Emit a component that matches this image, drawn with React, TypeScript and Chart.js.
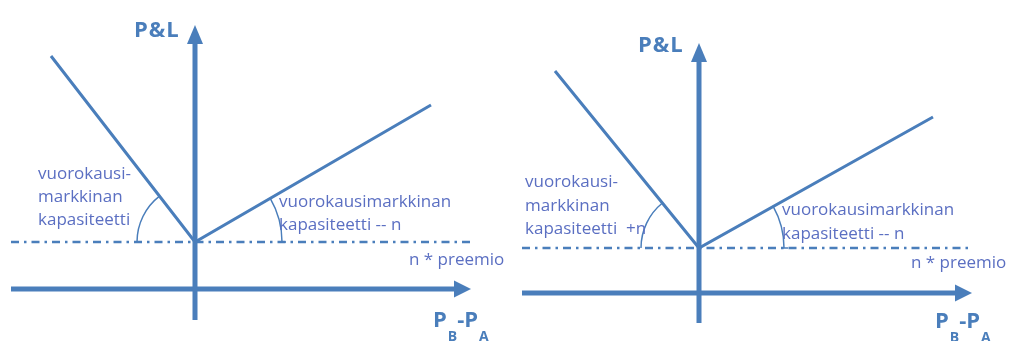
import React, { useEffect, useRef } from "react";
import { Chart, registerables } from "chart.js";

Chart.register(...registerables);

// ---------- Data (schematic P&L units; axes cross at 0,0) ----------
// Left panel
const leftPayoffX = [-14.4, 0, 23.6];
const leftPayoffY = [23.3, 4.7, 18.4];
const leftPremium = 4.7;
const leftPremiumSpan = [-18.4, 27.5];
const leftXAxisSpan = [-18.4, 26.0];
const leftYAxisSpan = [-3.1, 24.6];

// Right panel
const rightPayoffX = [-14.4, 0, 23.4];
const rightPayoffY = [22.2, 4.5, 17.6];
const rightPremium = 4.5;
const rightPremiumSpan = [-17.7, 27.2];
const rightXAxisSpan = [-17.7, 25.7];
const rightYAxisSpan = [-3.0, 23.2];

// Texts
const yAxisTitle = "P&L";
const leftBuyLines = ["vuorokausi-", "markkinan", "kapasiteetti"];
const rightBuyLines = ["vuorokausi-", "markkinan", "kapasiteetti  +n"];
const sellLines = ["vuorokausimarkkinan", "kapasiteetti -- n"];
const premiumLabel = "n * preemio";
const xAxisTitleParts = ["P", "B", "-P", "A"];

// ---------- Styles / layout ----------
const LINE_BLUE = "#4a7ebb";
const TEXT_BLUE = "#5b6fc2";
const SMALL_FONT = '17px "Open Sans", "Noto Sans", sans-serif';
const BIG_FONT = 'bold 22px "Open Sans", "Noto Sans", sans-serif';
const SUB_FONT = 'bold 14px "Open Sans", "Noto Sans", sans-serif';

type Layout = {
  view: { xMin: number; xMax: number; yMin: number; yMax: number };
  title: { x: number; y: number };
  buy: { x: number; y: number; lines: string[] };
  sell: { x: number; y: number };
  prem: { x: number; y: number };
  xTitle: { x: number; y: number };
  arcR: [number, number];
  lineGap: number;
};

const leftLayout: Layout = {
  view: { xMin: -19.5, xMax: 82.4, yMin: -5.2, yMax: 28.9 },
  title: { x: -6.1, y: 25.2 },
  buy: { x: -15.7, y: 11.0, lines: leftBuyLines },
  sell: { x: 8.4, y: 8.2 },
  prem: { x: 21.4, y: 2.4 },
  xTitle: { x: 23.8, y: -3.8 },
  arcR: [58, 87],
  lineGap: 23,
};

const rightLayout: Layout = {
  view: { xMin: -69.9, xMax: 32.0, yMin: -4.8, yMax: 29.3 },
  title: { x: -6.1, y: 24.1 },
  buy: { x: -17.4, y: 10.6, lines: rightBuyLines },
  sell: { x: 8.3, y: 7.8 },
  prem: { x: 21.2, y: 2.5 },
  xTitle: { x: 23.6, y: -3.5 },
  arcR: [58, 85],
  lineGap: 23.5,
};

type PanelData = {
  payoffX: number[];
  payoffY: number[];
  premium: number;
  premiumSpan: number[];
  xAxisSpan: number[];
  yAxisSpan: number[];
};

const leftData: PanelData = {
  payoffX: leftPayoffX,
  payoffY: leftPayoffY,
  premium: leftPremium,
  premiumSpan: leftPremiumSpan,
  xAxisSpan: leftXAxisSpan,
  yAxisSpan: leftYAxisSpan,
};
const rightData: PanelData = {
  payoffX: rightPayoffX,
  payoffY: rightPayoffY,
  premium: rightPremium,
  premiumSpan: rightPremiumSpan,
  xAxisSpan: rightXAxisSpan,
  yAxisSpan: rightYAxisSpan,
};

function makePlugin(d: PanelData, L: Layout) {
  return {
    id: "diagram",
    afterDatasetsDraw(chart: any) {
      const ctx = chart.ctx as CanvasRenderingContext2D;
      const xs = chart.scales.x;
      const ys = chart.scales.y;
      const px = (v: number) => xs.getPixelForValue(v);
      const py = (v: number) => ys.getPixelForValue(v);
      ctx.save();
      ctx.fillStyle = LINE_BLUE;
      // X arrow head
      const xe = px(d.xAxisSpan[1]);
      const x0y = py(0);
      ctx.beginPath();
      ctx.moveTo(xe - 1, x0y - 8.5);
      ctx.lineTo(xe + 16, x0y);
      ctx.lineTo(xe - 1, x0y + 8.5);
      ctx.closePath();
      ctx.fill();
      // Y arrow head
      const ye = py(d.yAxisSpan[1]);
      const y0x = px(0);
      ctx.beginPath();
      ctx.moveTo(y0x - 8, ye + 1);
      ctx.lineTo(y0x, ye - 18);
      ctx.lineTo(y0x + 8, ye + 1);
      ctx.closePath();
      ctx.fill();
      // angle arcs around the kink
      const kx = px(d.payoffX[1]);
      const ky = py(d.payoffY[1]);
      const aL = Math.atan2(py(d.payoffY[0]) - ky, px(d.payoffX[0]) - kx);
      const aR = Math.atan2(py(d.payoffY[2]) - ky, px(d.payoffX[2]) - kx);
      ctx.strokeStyle = LINE_BLUE;
      ctx.lineWidth = 1.5;
      ctx.beginPath();
      ctx.arc(kx, ky, L.arcR[0], Math.PI, aL + 2 * Math.PI);
      ctx.stroke();
      ctx.beginPath();
      ctx.arc(kx, ky, L.arcR[1], aR, 0);
      ctx.stroke();
      ctx.beginPath();
      ctx.moveTo(kx + L.arcR[1] - 3, ky);
      ctx.lineTo(kx + L.arcR[1] + 4, ky);
      ctx.stroke();
      ctx.restore();
    },
    afterDraw(chart: any) {
      const ctx = chart.ctx as CanvasRenderingContext2D;
      const xs = chart.scales.x;
      const ys = chart.scales.y;
      const px = (v: number) => xs.getPixelForValue(v);
      const py = (v: number) => ys.getPixelForValue(v);
      ctx.save();
      ctx.textBaseline = "alphabetic";
      ctx.textAlign = "left";
      // P&L
      ctx.font = BIG_FONT;
      ctx.fillStyle = LINE_BLUE;
      (ctx as any).letterSpacing = "1px";
      ctx.fillText(yAxisTitle, px(L.title.x), py(L.title.y));
      (ctx as any).letterSpacing = "0px";
      // P_B - P_A
      let tx = px(L.xTitle.x);
      const tb = py(L.xTitle.y);
      xAxisTitleParts.forEach((t, i) => {
        const sub = i % 2 === 1;
        ctx.font = sub ? SUB_FONT : BIG_FONT;
        ctx.fillText(t, tx, sub ? tb + 14 : tb);
        tx += ctx.measureText(t).width + (sub ? 0 : 1);
      });
      // small labels
      ctx.font = SMALL_FONT;
      ctx.fillStyle = TEXT_BLUE;
      L.buy.lines.forEach((t, i) => {
        ctx.fillText(t, px(L.buy.x), py(L.buy.y) + i * L.lineGap);
      });
      sellLines.forEach((t, i) => {
        ctx.fillText(t, px(L.sell.x), py(L.sell.y) + i * L.lineGap);
      });
      ctx.fillText(premiumLabel, px(L.prem.x), py(L.prem.y));
      ctx.restore();
    },
  };
}

function buildConfig(d: PanelData, L: Layout): any {
  const pts = (xsArr: number[], ysArr: number[]) =>
    xsArr.map((x, i) => ({ x, y: ysArr[i] }));
  return {
    type: "scatter",
    data: {
      datasets: [
        {
          label: "n * preemio",
          data: pts(d.premiumSpan, [d.premium, d.premium]),
          showLine: true,
          borderColor: LINE_BLUE,
          borderWidth: 2.5,
          borderDash: [8, 5, 2.5, 5],
          pointRadius: 0,
        },
        {
          label: "x-axis",
          data: pts(d.xAxisSpan, [0, 0]),
          showLine: true,
          borderColor: LINE_BLUE,
          borderWidth: 5,
          pointRadius: 0,
        },
        {
          label: "y-axis",
          data: pts([0, 0], d.yAxisSpan),
          showLine: true,
          borderColor: LINE_BLUE,
          borderWidth: 5,
          pointRadius: 0,
        },
        {
          label: "P&L",
          data: pts(d.payoffX, d.payoffY),
          showLine: true,
          borderColor: LINE_BLUE,
          borderWidth: 3,
          pointRadius: 0,
          borderJoinStyle: "miter",
        },
      ],
    },
    options: {
      responsive: false,
      animation: false,
      layout: { padding: 0 },
      plugins: {
        legend: { display: false },
        tooltip: { enabled: false },
      },
      scales: {
        x: { type: "linear", display: false, min: L.view.xMin, max: L.view.xMax },
        y: { type: "linear", display: false, min: L.view.yMin, max: L.view.yMax },
      },
    },
    plugins: [makePlugin(d, L)],
  };
}

function Panel({ d, L }: { d: PanelData; L: Layout }) {
  const ref = useRef<HTMLCanvasElement | null>(null);
  useEffect(() => {
    if (!ref.current) return;
    const chart = new Chart(ref.current, buildConfig(d, L));
    return () => chart.destroy();
  }, [d, L]);
  return (
    <canvas
      ref={ref}
      width={1019}
      height={341}
      style={{ position: "absolute", left: 0, top: 0, width: 1019, height: 341 }}
    />
  );
}

export default function App() {
  return (
    <div
      style={{
        position: "absolute",
        left: 0,
        top: 0,
        width: 1019,
        height: 341,
        background: "#ffffff",
        overflow: "hidden",
      }}
    >
      <Panel d={leftData} L={leftLayout} />
      <Panel d={rightData} L={rightLayout} />
    </div>
  );
}
